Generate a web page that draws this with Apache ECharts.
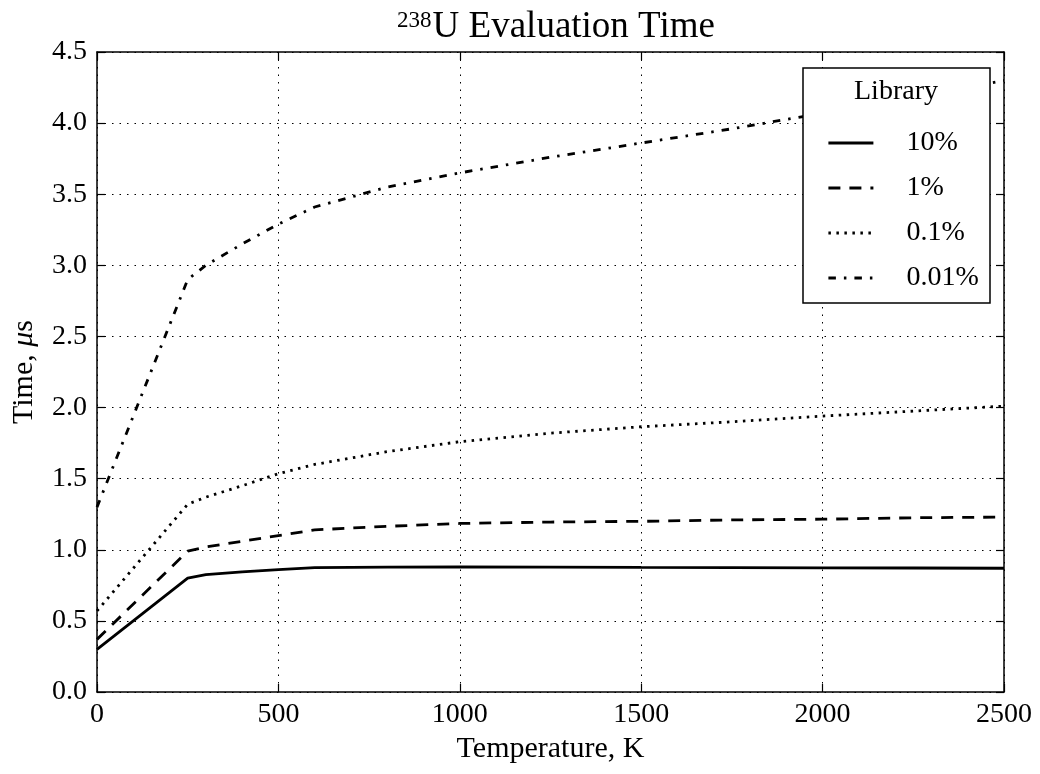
<!DOCTYPE html>
<html>
<head>
<meta charset="utf-8">
<script src="https://cdn.jsdelivr.net/npm/echarts@6/dist/echarts.min.js"></script>
<style>html,body{margin:0;padding:0;background:#fff}#c{width:1040px;height:774px}</style>
</head>
<body>
<div id="c"></div>
<script>
// Data
const temperatures = [0, 250, 300, 400, 500, 600, 800, 1000, 1250, 1500, 1750, 2000, 2250, 2500];
const lib10   = [0.30, 0.80, 0.825, 0.845, 0.86, 0.875, 0.878, 0.88, 0.878, 0.876, 0.875, 0.873, 0.872, 0.87];
const lib1    = [0.37, 0.99, 1.02, 1.06, 1.10, 1.14, 1.165, 1.185, 1.195, 1.20, 1.21, 1.215, 1.225, 1.23];
const lib01   = [0.57, 1.32, 1.37, 1.45, 1.535, 1.60, 1.69, 1.76, 1.82, 1.865, 1.90, 1.94, 1.975, 2.01];
const lib001  = [1.30, 2.90, 3.00, 3.15, 3.29, 3.41, 3.55, 3.65, 3.76, 3.86, 3.96, 4.07, 4.18, 4.30];
const seriesNames = ['10%', '1%', '0.1%', '0.01%'];
const xTicks = [0, 500, 1000, 1500, 2000, 2500];
const yTicks = [0.0, 0.5, 1.0, 1.5, 2.0, 2.5, 3.0, 3.5, 4.0, 4.5];

const FONT = '"Liberation Serif", "DejaVu Serif", serif';
const pair = arr => temperatures.map((t, i) => [t, arr[i]]);
const dashes = ['solid', [12, 9], [2.5, 5.5], [7.5, 8, 2.5, 8]];
const values = [lib10, lib1, lib01, lib001];

const chart = echarts.init(document.getElementById('c'), null, {renderer: 'canvas'});
const axisCommon = {
  axisLine: {show: true, onZero: false, lineStyle: {color: '#000', width: 1.5}},
  axisTick: {show: true, inside: true, length: 8, lineStyle: {color: '#000', width: 1.2}},
};
chart.setOption({
  animation: false,
  backgroundColor: '#fff',
  title: {
    text: '{s|238}{m|U Evaluation Time}',
    left: 551, top: 4, textAlign: 'center',
    textStyle: {
      fontWeight: 'normal',
      rich: {
        s: {fontFamily: FONT, fontSize: 23, fontWeight: 'normal', color: '#000', padding: [0, 1, 14, 0]},
        m: {fontFamily: FONT, fontSize: 37, fontWeight: 'normal', color: '#000'}
      }
    }
  },
  grid: {left: 97, right: 36, top: 52, bottom: 82, containLabel: false},
  xAxis: [
    Object.assign({
      type: 'value', min: xTicks[0], max: xTicks[xTicks.length - 1], interval: 500,
      position: 'bottom',
      name: 'Temperature, K', nameLocation: 'middle', nameGap: 42,
      nameTextStyle: {fontFamily: FONT, fontSize: 30, color: '#000'},
      axisLabel: {fontFamily: FONT, fontSize: 28, color: '#000', margin: 9,
        formatter: v => String(v)},
      splitLine: {show: true, lineStyle: {color: '#000', width: 1, type: [1.5, 6]}}
    }, axisCommon),
    Object.assign({
      type: 'value', min: xTicks[0], max: xTicks[xTicks.length - 1], interval: 500,
      position: 'top', axisLabel: {show: false}, splitLine: {show: false}
    }, axisCommon)
  ],
  yAxis: [
    Object.assign({
      type: 'value', min: yTicks[0], max: yTicks[yTicks.length - 1], interval: 0.5,
      position: 'left',
      name: '{a|Time, }{b|μ}{a|s}', nameLocation: 'middle', nameGap: 58,
      nameTextStyle: {rich: {
        a: {fontFamily: FONT, fontSize: 30, color: '#000'},
        b: {fontFamily: FONT, fontSize: 30, color: '#000', fontStyle: 'italic'}
      }},
      axisLabel: {fontFamily: FONT, fontSize: 28, color: '#000', margin: 10,
        formatter: v => v.toFixed(1)},
      splitLine: {show: true, lineStyle: {color: '#000', width: 1, type: [1.5, 6]}}
    }, axisCommon),
    Object.assign({
      type: 'value', min: yTicks[0], max: yTicks[yTicks.length - 1], interval: 0.5,
      position: 'right', axisLabel: {show: false}, splitLine: {show: false}
    }, axisCommon)
  ],
  legend: {
    show: true, orient: 'vertical', left: 822, top: 124,
    itemWidth: 45, itemHeight: 14, itemGap: 17,
    data: seriesNames,
    itemStyle: {opacity: 0, borderWidth: 0},
    lineStyle: {width: 2.8},
    textStyle: {fontFamily: FONT, fontSize: 28, color: '#000', padding: [0, 0, 0, 28]},
    z: 6
  },
  graphic: [
    {type: 'rect', z: 5, shape: {x: 803, y: 68, width: 187, height: 235},
     style: {fill: '#fff', stroke: '#000', lineWidth: 1.5}},
    {type: 'text', z: 6, x: 896, y: 92,
     style: {text: 'Library', font: '28px ' + FONT, fill: '#000', align: 'center', verticalAlign: 'middle'}}
  ],
  series: seriesNames.map((n, i) => ({
    name: n, type: 'line', data: pair(values[i]),
    showSymbol: false, symbol: 'none', smooth: false, z: 2,
    lineStyle: {color: '#000', width: 2.8, type: dashes[i], cap: 'butt'},
    itemStyle: {color: '#000'}
  }))
});
</script>
</body>
</html>
